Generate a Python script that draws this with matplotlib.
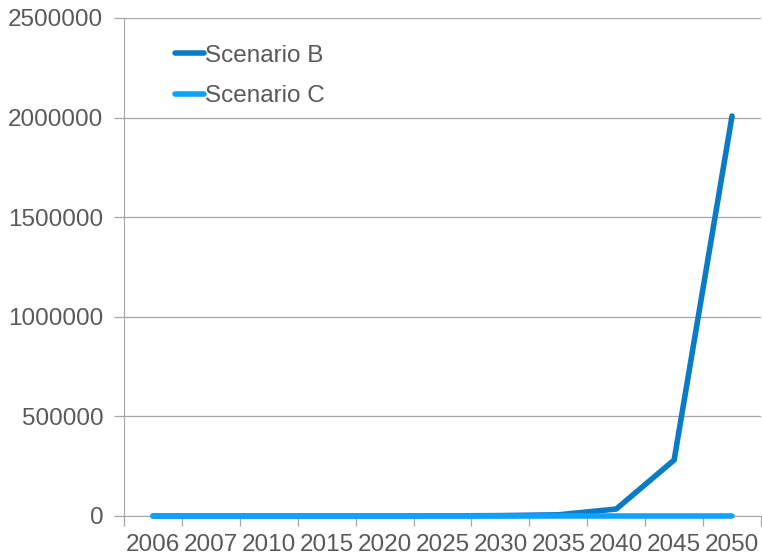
import numpy as np
import matplotlib.pyplot as plt
from matplotlib.ticker import FixedLocator

# -------------------------
# Data
# -------------------------
years = ["2006", "2007", "2010", "2015", "2020", "2025", "2030", "2035", "2040", "2045", "2050"]
scenario_b = [0, 0, 0, 0, 0, 500, 2000, 6000, 35000, 281000, 2008000]
scenario_c = [0, 0, 0, 0, 0, 0, 0, 0, 0, 0, 0]
y_ticks = [0, 500000, 1000000, 1500000, 2000000, 2500000]

TEXT = "#595959"
GRID = "#a6a6a6"

plt.rcParams["font.family"] = ["Liberation Sans", "DejaVu Sans"]

fig = plt.figure(figsize=(7.62, 5.55), dpi=100)
ax = fig.add_axes([124 / 762, 1 - 516 / 555, 637 / 762, 498 / 555])

x = np.arange(len(years))
ax.plot(x, scenario_b, color="#0a7bc6", lw=4, solid_capstyle="round", label="Scenario B",
        zorder=3, clip_on=False)
ax.plot(x, scenario_c, color="#0ea1ff", lw=4, solid_capstyle="round", label="Scenario C",
        zorder=4, clip_on=False)

ax.set_xlim(-0.5, len(years) - 0.5)
ax.set_ylim(0, 2500000)
ax.set_yticks(y_ticks)
ax.set_yticklabels([str(v) for v in y_ticks])
ax.set_xticks(x)
ax.set_xticklabels(years)
ax.xaxis.set_minor_locator(FixedLocator(np.arange(-0.5, len(years), 1.0)))

ax.grid(axis="y", color=GRID, lw=0.9)
ax.set_axisbelow(True)
for s in ["top", "right"]:
    ax.spines[s].set_visible(False)
ax.spines["left"].set_color(GRID)
ax.spines["bottom"].set_color(GRID)

ax.tick_params(axis="x", which="major", length=0, pad=13, labelsize=17.5, colors=TEXT)
ax.tick_params(axis="x", which="minor", length=7, color=GRID, width=0.9)
ax.tick_params(axis="y", length=7, color=GRID, width=0.9, labelsize=17.5, colors=TEXT, pad=8)

leg = ax.legend(loc="upper left", bbox_to_anchor=(0.045, 0.99), frameon=False, fontsize=17.5,
                handlelength=1.2, handletextpad=0.05, labelspacing=0.75)
for t in leg.get_texts():
    t.set_color(TEXT)

fig.savefig("out.png", dpi=100)
